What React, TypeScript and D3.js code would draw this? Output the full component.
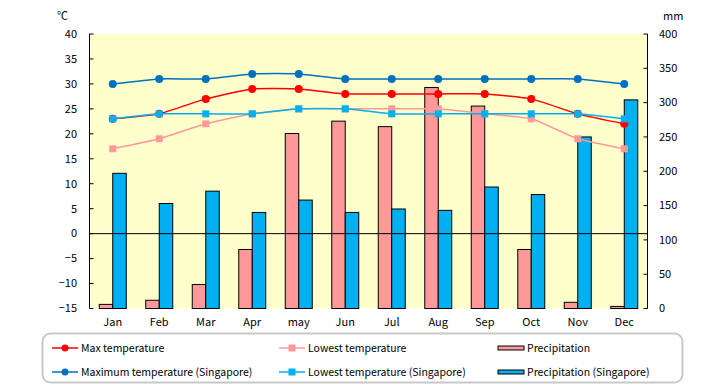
import React from "react";
import * as d3 from "d3";

const months = ["Jan", "Feb", "Mar", "Apr", "may", "Jun", "Jul", "Aug", "Sep", "Oct", "Nov", "Dec"];
const maxTemp = [23, 24, 27, 29, 29, 28, 28, 28, 28, 27, 24, 22];
const minTemp = [17, 19, 22, 24, 25, 25, 25, 25, 24, 23, 19, 17];
const maxTempSg = [30, 31, 31, 32, 32, 31, 31, 31, 31, 31, 31, 30];
const minTempSg = [23, 24, 24, 24, 25, 25, 24, 24, 24, 24, 24, 23];
const precip = [6, 12, 35, 86, 255, 273, 265, 322, 295, 86, 9, 3];
const precipSg = [197, 153, 171, 140, 158, 140, 145, 143, 177, 166, 250, 304];
const tempTicks = [-15, -10, -5, 0, 5, 10, 15, 20, 25, 30, 35, 40];
const mmTicks = [0, 50, 100, 150, 200, 250, 300, 350, 400];

const FONT = "'Noto Sans CJK JP', 'Noto Sans', sans-serif";

export default function App() {
  const left = 89.5, right = 647.5, top = 34, bottom = 308.5;
  const x = d3.scaleBand<string>().domain(months).range([left, right]);
  const yT = d3.scaleLinear().domain([-15, 40]).range([bottom, top]);
  const yM = d3.scaleLinear().domain([0, 400]).range([bottom, top]);
  const bw = 13.5;
  const cx = (m: string) => (x(m) as number) + x.bandwidth() / 2;

  const lineGen = (vals: number[]) =>
    d3
      .line<number>()
      .x((_, i) => cx(months[i]))
      .y((v) => yT(v))
      .curve(d3.curveCardinal.tension(0.5))(vals) as string;

  const series = [
    { vals: maxTemp, color: "#FF0000", shape: "circle" },
    { vals: minTemp, color: "#FF9999", shape: "square" },
    { vals: maxTempSg, color: "#0070C0", shape: "circle" },
    { vals: minTempSg, color: "#00B0F0", shape: "square" },
  ];

  const legendItems = [
    { label: "Max temperature", kind: "circle", color: "#FF0000", x: 52, y: 348 },
    { label: "Lowest temperature", kind: "square", color: "#FF9999", x: 279, y: 348 },
    { label: "Precipitation", kind: "bar", color: "#FF9999", x: 498, y: 348 },
    { label: "Maximum temperature (Singapore)", kind: "circle", color: "#0070C0", x: 52, y: 372 },
    { label: "Lowest temperature (Singapore)", kind: "square", color: "#00B0F0", x: 279, y: 372 },
    { label: "Precipitation (Singapore)", kind: "bar", color: "#00B0F0", x: 498, y: 372 },
  ];

  return (
    <svg
      width={720}
      height={385}
      style={{ position: "absolute", left: 0, top: 0, background: "#fff" }}
      fontFamily={FONT}
    >
      <rect x={left} y={top} width={right - left} height={bottom - top} fill="#FFFFCC" />
      {/* bars */}
      {months.map((m, i) => (
        <g key={m}>
          <rect
            x={cx(m) - bw}
            y={yM(precip[i])}
            width={bw}
            height={bottom - yM(precip[i])}
            fill="#FF9999"
            stroke="#000"
            strokeWidth={1}
          />
          <rect
            x={cx(m)}
            y={yM(precipSg[i])}
            width={bw}
            height={bottom - yM(precipSg[i])}
            fill="#00B0F0"
            stroke="#000"
            strokeWidth={1}
          />
        </g>
      ))}
      {/* zero line */}
      <line x1={left} x2={right} y1={yT(0)} y2={yT(0)} stroke="#000" strokeWidth={1} />
      {/* lines */}
      {series.map((s, si) => (
        <g key={si}>
          <path d={lineGen(s.vals)} fill="none" stroke={s.color} strokeWidth={1.5} />
          {s.vals.map((v, i) =>
            s.shape === "circle" ? (
              <circle key={i} cx={cx(months[i])} cy={yT(v)} r={4} fill={s.color} />
            ) : (
              <rect key={i} x={cx(months[i]) - 3.5} y={yT(v) - 3.5} width={7} height={7} fill={s.color} />
            )
          )}
        </g>
      ))}
      {/* axes */}
      <line x1={left} x2={left} y1={top} y2={bottom} stroke="#000" />
      <line x1={right} x2={right} y1={top} y2={bottom} stroke="#000" />
      {tempTicks.map((t) => (
        <g key={t}>
          <line x1={left} x2={left + 4} y1={yT(t)} y2={yT(t)} stroke="#000" />
          <text x={77} y={yT(t)} dy="0.35em" textAnchor="end" fontSize={11} fill="#000">
            {t < 0 ? "\u2212" + Math.abs(t) : t}
          </text>
        </g>
      ))}
      {mmTicks.map((t) => (
        <g key={t}>
          <line x1={right - 4} x2={right} y1={yM(t)} y2={yM(t)} stroke="#000" />
          <text x={659} y={yM(t)} dy="0.35em" textAnchor="start" fontSize={11} fill="#000">
            {t}
          </text>
        </g>
      ))}
      <text x={57} y={20} fontSize={11} fill="#000">℃</text>
      <text x={663} y={20} fontSize={11} fill="#000">mm</text>
      {months.map((m) => (
        <text key={m} x={cx(m)} y={322} dy="0.35em" textAnchor="middle" fontSize={11} fill="#000">
          {m}
        </text>
      ))}
      {/* legend */}
      <rect x={42.5} y={333.5} width={640} height={49} rx={8} fill="#fff" stroke="#C8C8C8" strokeWidth={2} />
      {legendItems.map((it) => (
        <g key={it.label}>
          {it.kind === "bar" ? (
            <rect x={it.x} y={it.y - 2} width={26} height={4} fill={it.color} stroke="#000" strokeWidth={1} />
          ) : (
            <>
              <line x1={it.x} x2={it.x + 26} y1={it.y} y2={it.y} stroke={it.color} strokeWidth={1.5} />
              {it.kind === "circle" ? (
                <circle cx={it.x + 13} cy={it.y} r={3.5} fill={it.color} />
              ) : (
                <rect x={it.x + 9.5} y={it.y - 3.5} width={7} height={7} fill={it.color} />
              )}
            </>
          )}
          <text x={it.x + 29} y={it.y} dy="0.35em" fontSize={10.5} fill="#000">
            {it.label}
          </text>
        </g>
      ))}
    </svg>
  );
}
